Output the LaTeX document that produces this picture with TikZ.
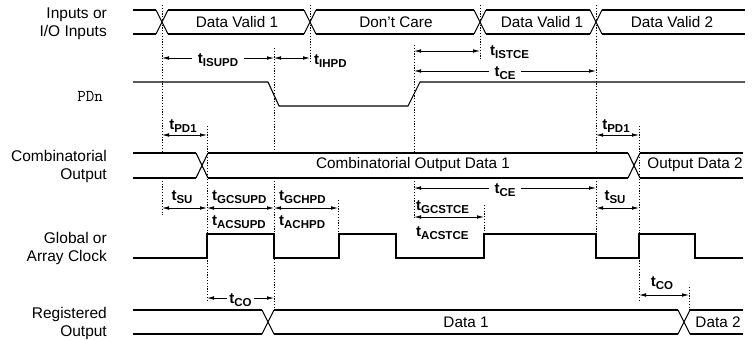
\documentclass[tikz,border=0pt]{standalone}
\usepackage{fontspec}
\setmainfont{Liberation Sans}
\usetikzlibrary{arrows.meta}
\newcommand{\tsub}[1]{\textbf{t\raisebox{-3pt}{\fontsize{11.5}{12}\selectfont\bfseries #1}}}
\newcommand{\xcross}[3]{\draw[sig] ({#1-6},#2) -- ({#1+6},#3) ({#1-6},#3) -- ({#1+6},#2);}
\newcommand{\busseg}[4]{\draw[sig] (#1,#3) -- (#2,#3) (#1,#4) -- (#2,#4);}
\begin{document}
\begin{tikzpicture}[x=1pt,y=-1pt,
  sig/.style={line width=1.1pt, line join=miter},
  guide/.style={line width=0.8pt, dash pattern=on 1.2pt off 1.6pt},
  dim/.style={line width=0.8pt, {Latex[length=7pt,width=3.6pt]}-{Latex[length=7pt,width=3.6pt]}},
  lbl/.style={font=\fontsize{15.5}{18}\selectfont, align=right, anchor=east, inner sep=0pt},
  bustext/.style={font=\fontsize{15.3}{18}\selectfont, inner sep=0pt},
  tl/.style={font=\fontsize{15}{18}\selectfont, inner sep=0pt},
  tmid/.style={font=\fontsize{15}{18}\selectfont, fill=white, inner xsep=6pt, inner ysep=1pt, yshift=-2pt},
]
\useasboundingbox (0,0) rectangle (753,340);

% left labels
\node[lbl] (lin) at (107,24) {Inputs or\\I/O Inputs};
\node[lbl, font=\ttfamily\fontsize{16.5}{18}\selectfont] (lpd) at (103,96) {PDn};
\node[lbl] (lcomb) at (107,166) {Combinatorial\\Output};
\node[lbl] (lclk) at (107,248) {Global or\\Array Clock};
\node[lbl] (lreg) at (107,323) {Registered\\Output};

% guide (dotted) lines
\draw[guide] (162,5) -- (162,153) (162,178) -- (162,215);
\draw[guide] (310,5) -- (310,62);
\draw[guide] (274,48) -- (274,153) (274,178) -- (274,309);
\draw[guide] (207,126) -- (207,300);
\draw[guide] (338,200) -- (338,234);
\draw[guide] (414,45) -- (414,153) (414,178) -- (414,218);
\draw[guide] (480,5) -- (480,60);
\draw[guide] (484,205) -- (484,234);
\draw[guide] (596,5) -- (596,153) (596,178) -- (596,234);
\draw[guide] (639,126) -- (639,300);
\draw[guide] (689,287) -- (689,310);

% Inputs bus
\busseg{133}{156}{10}{34}
\xcross{162}{10}{34}
\busseg{168}{304}{10}{34}
\xcross{310}{10}{34}
\busseg{316}{474}{10}{34}
\xcross{480}{10}{34}
\busseg{486}{590}{10}{34}
\xcross{596}{10}{34}
\busseg{602}{745}{10}{34}
\node[bustext] (dv1) at (237,22) {Data Valid 1};
\node[bustext] (dc) at (396,22) {Don’t Care};
\node[bustext] (dv1b) at (542,22) {Data Valid 1};
\node[bustext] (dv2) at (672,22) {Data Valid 2};

% PDn
\draw[sig] (133,82) -- (268,82) -- (279,106) -- (408,106) -- (420,82) -- (745,82);

% Combinatorial bus
\busseg{133}{196}{153}{178}
\xcross{202}{153}{178}
\busseg{208}{628}{153}{178}
\xcross{634}{153}{178}
\busseg{640}{743}{153}{178}
\node[bustext] (cod1) at (413,165) {Combinatorial Output Data 1};
\node[bustext] (cod2) at (695,165) {Output Data 2};

% Clock
\draw[sig] (133,258) -- (207,258) -- (207,234) -- (274,234) -- (274,258) -- (339,258) -- (339,234)
  -- (396,234) -- (396,258) -- (484,258) -- (484,234) -- (596,234) -- (596,258) -- (639,258)
  -- (639,234) -- (695,234) -- (695,258) -- (743,258);

% Registered bus
\busseg{133}{262}{310}{334}
\xcross{268}{310}{334}
\busseg{274}{678}{310}{334}
\xcross{684}{310}{334}
\busseg{690}{743}{310}{334}
\node[bustext] (rd1) at (466,322) {Data 1};
\node[bustext] (rd2) at (718,322) {Data 2};

% dimension arrows
\draw[dim] (162,58) -- node[tmid] (isupd) {\tsub{ISUPD}} (274,58);
\draw[dim] (274,58) -- (310,58);
\node[tl, anchor=base west] (ihpd) at (314,64) {\tsub{IHPD}};
\draw[dim] (414,51) -- (480,51);
\node[tl, anchor=base west] (istce) at (490,55) {\tsub{ISTCE}};
\draw[dim] (414,71) -- node[tmid] (ce1) {\tsub{CE}} (596,71);

\draw[dim] (162,135) -- (207,135);
\node[tl, anchor=base] (pd1a) at (183,129) {\tsub{PD1}};
\draw[dim] (596,135) -- (639,135);
\node[tl, anchor=base] (pd1b) at (616,129) {\tsub{PD1}};

\draw[dim] (414,188) -- node[tmid] (ce2) {\tsub{CE}} (596,188);

\draw[dim] (162,208) -- (207,208);
\node[tl, anchor=base] (sua) at (182,200) {\tsub{SU}};
\draw[dim] (596,208) -- (639,208);
\node[tl, anchor=base] (sub) at (615,200) {\tsub{SU}};
\draw[dim] (207,208) -- (274,208);
\node[tl, anchor=base west] (gcsupd) at (212,200) {\tsub{GCSUPD}};
\node[tl, anchor=base west] (acsupd) at (212,225) {\tsub{ACSUPD}};
\draw[dim] (274,208) -- (338,208);
\node[tl, anchor=base west] (gchpd) at (279,200) {\tsub{GCHPD}};
\node[tl, anchor=base west] (achpd) at (279,225) {\tsub{ACHPD}};
\draw[dim] (414,217) -- (484,217);
\node[tl, anchor=base west] (gcstce) at (416,210) {\tsub{GCSTCE}};
\node[tl, anchor=base west] (acstce) at (416,236) {\tsub{ACSTCE}};

\draw[dim] (207,298) -- node[tmid, inner xsep=2pt] (coa) {\tsub{CO}} (274,298);
\draw[dim] (639,295) -- (689,295);
\node[tl, anchor=base] (cob) at (662,286) {\tsub{CO}};
\end{tikzpicture}
\end{document}
